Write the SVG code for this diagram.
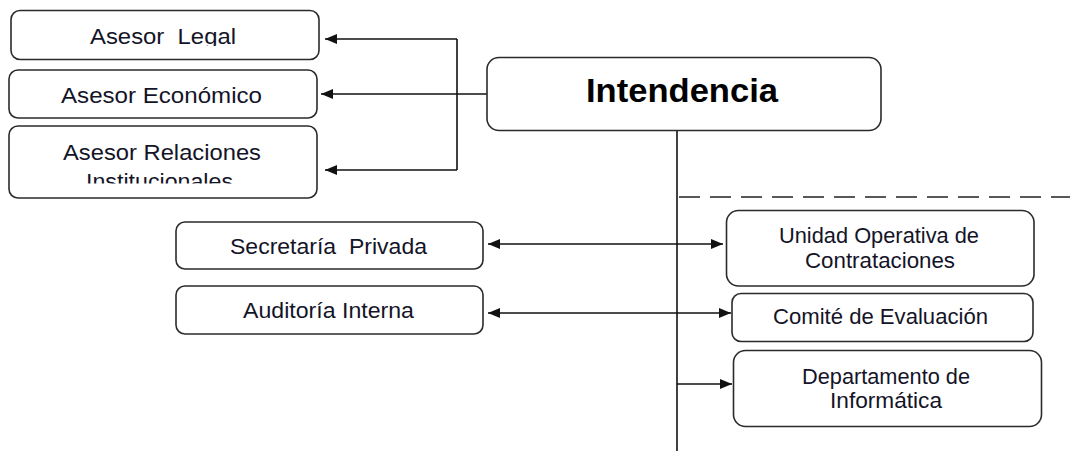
<svg xmlns="http://www.w3.org/2000/svg" width="1070" height="451" viewBox="0 0 1070 451">
  <style>
    .box { fill: #ffffff; stroke: #2b2b2b; stroke-width: 1.6; }
    .lbl { font-family: "Liberation Sans", Arial, sans-serif; font-size: 22px; fill: #141428; text-anchor: middle; white-space: pre; }
    .title { font-family: "Liberation Sans", Arial, sans-serif; font-size: 34px; font-weight: bold; fill: #000000; text-anchor: middle; }
    .wire { fill: none; stroke: #111111; stroke-width: 1.6; }
    .dash { fill: none; stroke: #222222; stroke-width: 1.6; stroke-dasharray: 21 10; }
  </style>
  <defs>
    <marker id="arrow" viewBox="0 0 12 10" refX="12" refY="5" markerWidth="12" markerHeight="10" markerUnits="userSpaceOnUse" orient="auto-start-reverse">
      <path d="M0,0 L12,5 L0,10 z" fill="#111111"/>
    </marker>
    <clipPath id="clipLegal"><rect x="11" y="10" width="308" height="36"/></clipPath>
    <clipPath id="clipRel"><rect x="9" y="126" width="308" height="57.5"/></clipPath>
  </defs>

  <rect width="1070" height="451" fill="#ffffff"/>

  <!-- connectors -->
  <g id="connectors">
    <line class="wire" x1="487" y1="94" x2="321" y2="94" marker-end="url(#arrow)"/>
    <line class="wire" x1="457" y1="39" x2="457" y2="170"/>
    <line class="wire" x1="457" y1="39" x2="325" y2="39" marker-end="url(#arrow)"/>
    <line class="wire" x1="457" y1="170" x2="325" y2="170" marker-end="url(#arrow)"/>
    <line class="wire" x1="677" y1="131" x2="677" y2="451"/>
    <line class="dash" x1="679" y1="197" x2="1070" y2="197"/>
    <line class="wire" x1="488" y1="244" x2="723" y2="244" marker-start="url(#arrow)" marker-end="url(#arrow)"/>
    <line class="wire" x1="488" y1="313" x2="731" y2="313" marker-start="url(#arrow)" marker-end="url(#arrow)"/>
    <line class="wire" x1="677" y1="384" x2="732" y2="384" marker-end="url(#arrow)"/>
  </g>

  <g id="asesor-legal">
    <rect class="box" x="11" y="10.5" width="308" height="49" rx="9"/>
    <text class="lbl" x="163" y="43.5" textLength="146" lengthAdjust="spacingAndGlyphs" clip-path="url(#clipLegal)">Asesor  Legal</text>
  </g>

  <g id="asesor-economico">
    <rect class="box" x="9" y="70" width="308" height="48" rx="9"/>
    <text class="lbl" x="161.5" y="103" textLength="201" lengthAdjust="spacingAndGlyphs">Asesor Económico</text>
  </g>

  <g id="asesor-relaciones">
    <rect class="box" x="9" y="126" width="308" height="72" rx="9"/>
    <g clip-path="url(#clipRel)">
      <text class="lbl" x="162" y="160" textLength="198" lengthAdjust="spacingAndGlyphs">Asesor Relaciones</text>
      <text class="lbl" x="159.5" y="189" textLength="147" lengthAdjust="spacingAndGlyphs">Institucionales</text>
    </g>
  </g>

  <g id="intendencia">
    <rect class="box" x="487" y="57.5" width="394" height="73" rx="12"/>
    <text class="title" x="682" y="102" textLength="192" lengthAdjust="spacingAndGlyphs">Intendencia</text>
  </g>

  <g id="secretaria-privada">
    <rect class="box" x="176" y="222" width="307" height="47" rx="9"/>
    <text class="lbl" x="328.5" y="253.5" textLength="197" lengthAdjust="spacingAndGlyphs">Secretaría  Privada</text>
  </g>

  <g id="auditoria-interna">
    <rect class="box" x="176" y="286" width="307" height="48" rx="9"/>
    <text class="lbl" x="328.5" y="318" textLength="171" lengthAdjust="spacingAndGlyphs">Auditoría Interna</text>
  </g>

  <g id="unidad-operativa">
    <rect class="box" x="726.5" y="210.5" width="307.5" height="75.5" rx="12"/>
    <text class="lbl" x="879" y="243" textLength="200" lengthAdjust="spacingAndGlyphs">Unidad Operativa de</text>
    <text class="lbl" x="880" y="268" textLength="150" lengthAdjust="spacingAndGlyphs">Contrataciones</text>
  </g>

  <g id="comite-evaluacion">
    <rect class="box" x="732" y="293.5" width="301" height="48" rx="9"/>
    <text class="lbl" x="880.5" y="324" textLength="215" lengthAdjust="spacingAndGlyphs">Comité de Evaluación</text>
  </g>

  <g id="departamento-informatica">
    <rect class="box" x="733.5" y="350.5" width="308" height="76" rx="12"/>
    <text class="lbl" x="886" y="384" textLength="168" lengthAdjust="spacingAndGlyphs">Departamento de</text>
    <text class="lbl" x="886" y="408" textLength="112" lengthAdjust="spacingAndGlyphs">Informática</text>
  </g>
</svg>
